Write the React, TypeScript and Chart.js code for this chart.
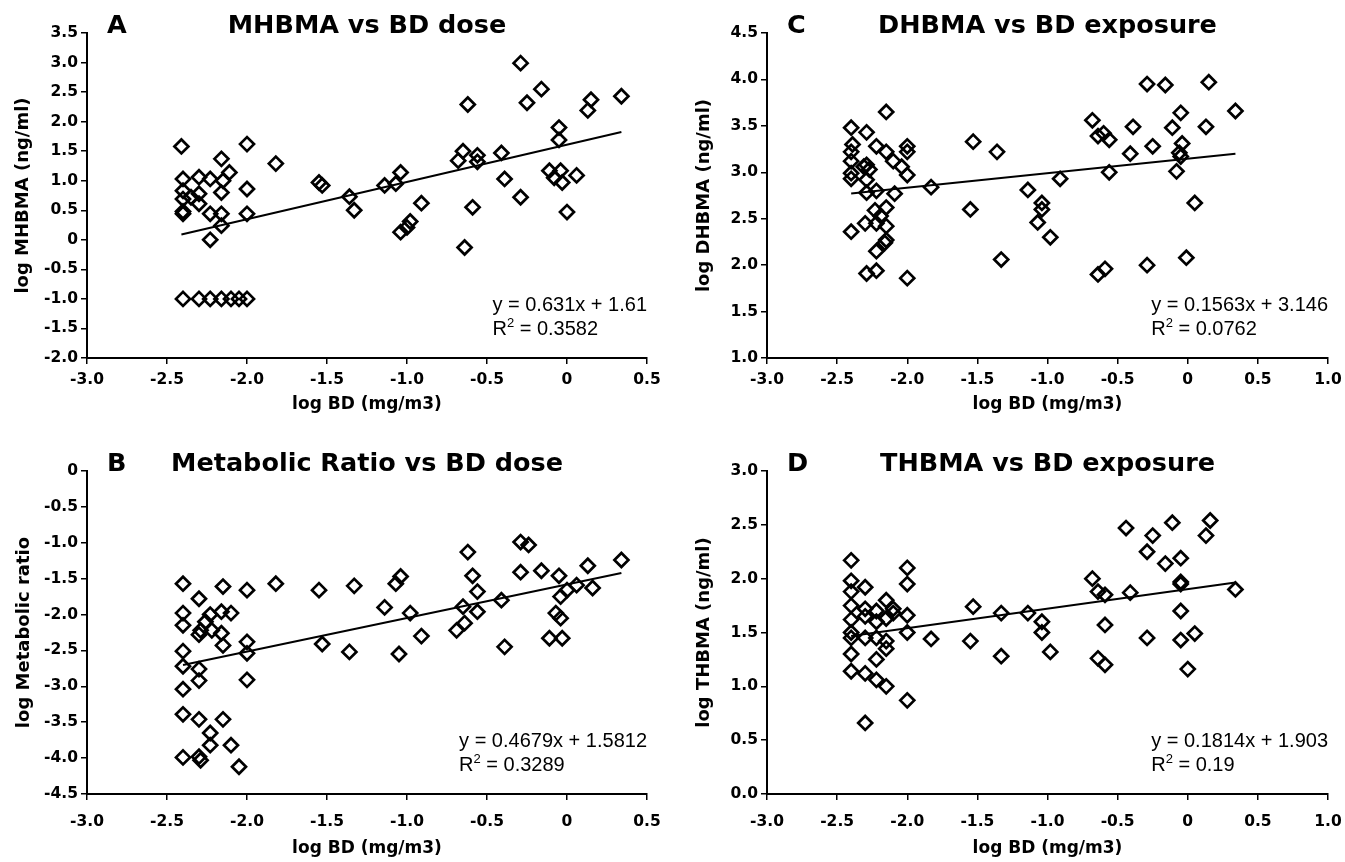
import React, { useEffect, useRef } from "react";
import { Chart, registerables } from "chart.js";

Chart.register(...registerables);

// ---------- Panel A: MHBMA vs BD dose ----------
const mhbmaX = [
  -2.41, -2.0, -2.16, -1.82, -2.4, -2.3, -2.23, -2.15, -2.11, -2.0, -2.4, -2.16, -1.55, -2.3, -2.35,
  -2.4, -2.3, -2.4, -2.4, -2.23, -2.16, -2.0, -2.16, -2.23, -1.53,
  -2.4, -2.3, -2.23, -2.16, -2.1, -2.05, -2.0,
  -0.29, -0.62, -0.16, -0.25, 0.15, 0.13, 0.34, -0.05, -0.05, -0.65, -0.68, -0.56, -0.56, -0.41,
  -1.04, -1.07, -1.14, -0.39, -0.11, -0.04, -0.08, 0.06, -0.03, -1.36, -1.33, -0.91, -0.98, -1.04,
  -1.0, -0.59, -0.64, -0.29, 0.0,
];
const mhbmaY = [
  1.58, 1.62, 1.37, 1.29, 1.03, 1.06, 1.03, 1.0, 1.14, 0.86, 0.83, 0.8, 0.97, 0.78, 0.72,
  0.69, 0.61, 0.48, 0.44, 0.44, 0.44, 0.44, 0.24, 0.0, 0.92,
  -1.0, -1.0, -1.0, -1.0, -1.0, -1.0, -1.0,
  2.99, 2.29, 2.55, 2.32, 2.37, 2.19, 2.43, 1.9, 1.69, 1.5, 1.34, 1.43, 1.32, 1.47,
  1.14, 0.95, 0.92, 1.03, 1.17, 1.17, 1.05, 1.09, 0.97, 0.73, 0.5, 0.62, 0.31, 0.13,
  0.21, 0.55, -0.13, 0.72, 0.47,
];

// ---------- Panel B: Metabolic Ratio vs BD dose ----------
const ratioX = [
  -2.4, -2.3, -2.15, -2.0, -1.82, -1.55, -2.4, -2.23, -2.16, -2.1, -2.4, -2.29, -2.26, -2.22, -2.16,
  -2.0, -2.3, -2.15, -2.0, -2.4, -2.4, -2.3, -2.3, -2.0, -2.4, -2.4, -2.3, -2.15, -2.23, -2.23,
  -2.1, -2.4, -2.3, -2.29, -2.05, -1.53, -1.33, -1.04, -1.07, -1.14, -0.98, -0.62, -0.59, -0.56,
  -0.65, -0.56, -0.64, -0.69, -0.41, -0.29, -0.24, -0.29, -0.16, -0.05, -0.04, 0.0, 0.06, 0.13,
  0.16, 0.34, -0.07, -0.04, -0.11, -0.03, -1.36, -1.05, -0.91, -0.39,
];
const ratioY = [
  -1.57, -1.78, -1.61, -1.66, -1.57, -1.66, -1.98, -2.0, -1.96, -1.98, -2.15, -2.22, -2.1, -2.22, -2.26,
  -2.38, -2.28, -2.43, -2.54, -2.51, -2.72, -2.76, -2.92, -2.91, -3.04, -3.39, -3.46, -3.46, -3.65, -3.82,
  -3.82, -3.99, -3.98, -4.03, -4.12, -2.41, -1.6, -1.47, -1.57, -1.9, -1.98, -1.13, -1.46, -1.68,
  -1.89, -1.96, -2.12, -2.22, -1.8, -0.99, -1.03, -1.41, -1.39, -1.46, -1.75, -1.66, -1.59, -1.32,
  -1.63, -1.24, -1.98, -2.05, -2.33, -2.33, -2.52, -2.55, -2.3, -2.45,
];

// ---------- Panel C: DHBMA vs BD exposure ----------
const dhbmaX = [
  -2.4, -2.29, -2.15, -2.22, -2.39, -2.4, -2.4, -2.15, -2.1, -2.0, -2.0, -2.04, -2.0, -2.4, -2.4,
  -2.31, -2.29, -2.27, -2.29, -1.53, -1.36, -1.83, -2.22, -2.29, -2.09, -2.23, -2.15, -2.19, -2.3,
  -2.22, -2.15, -2.4, -2.15, -2.16, -2.22, -2.29, -2.22, -2.0, -1.55, -1.33, -1.14, -1.04, -1.04,
  -1.07, -0.98, -0.64, -0.59, -0.29, -0.01, 0.05, -0.91, -0.29, -0.16, 0.15, 0.34, -0.68, -0.64,
  -0.6, -0.56, -0.39, -0.05, -0.11, 0.13, -0.04, -0.25, -0.41, -0.06, -0.05, -0.08, -0.56,
];
const dhbmaY = [
  3.48, 3.43, 3.65, 3.28, 3.3, 3.22, 3.12, 3.22, 3.12, 3.28, 3.22, 3.06, 2.97, 2.99, 2.93,
  3.06, 3.08, 3.03, 2.92, 3.33, 3.22, 2.84, 2.8, 2.78, 2.77, 2.59, 2.62, 2.53, 2.45,
  2.45, 2.42, 2.36, 2.27, 2.24, 2.15, 1.91, 1.94, 1.86, 2.6, 2.06, 2.81, 2.67, 2.6,
  2.46, 2.3, 1.9, 1.96, 2.0, 2.08, 2.67, 2.93, 3.95, 3.94, 3.97, 3.66, 3.56, 3.39,
  3.42, 3.35, 3.49, 3.64, 3.48, 3.49, 3.31, 3.28, 3.2, 3.21, 3.17, 3.01, 3.0,
];

// ---------- Panel D: THBMA vs BD exposure ----------
const thbmaX = [
  -2.4, -2.4, -2.4, -2.4, -2.4, -2.4, -2.4, -2.4, -2.4, -2.3, -2.3, -2.3, -2.3, -2.3, -2.3,
  -2.22, -2.22, -2.22, -2.22, -2.22, -2.15, -2.15, -2.15, -2.15, -2.15, -2.1, -2.1, -2.0, -2.0,
  -2.0, -2.0, -2.0, -1.83, -1.55, -1.53, -1.33, -1.33, -1.14, -1.04, -1.04, -0.98, -0.68, -0.64,
  -0.64, -0.59, -0.59, -0.59, -0.44, -0.41, -0.29, -0.29, -0.25, -0.16, -0.11, -0.05, -0.05,
  -0.05, -0.05, -0.05, 0.0, 0.05, 0.13, 0.16, 0.34,
];
const thbmaY = [
  2.17, 1.98, 1.88, 1.75, 1.62, 1.5, 1.45, 1.3, 1.14, 1.92, 1.72, 1.65, 1.45, 1.12, 0.66,
  1.7, 1.6, 1.45, 1.25, 1.06, 1.8, 1.63, 1.42, 1.35, 1.0, 1.72, 1.68, 2.1, 1.95,
  1.66, 1.5, 0.87, 1.44, 1.42, 1.74, 1.68, 1.28, 1.68, 1.6, 1.5, 1.32, 2.0, 1.88,
  1.26, 1.85, 1.2, 1.57, 2.47, 1.87, 2.25, 1.45, 2.4, 2.14, 2.52, 2.19, 1.97,
  1.95, 1.7, 1.43, 1.16, 1.49, 2.4, 2.54, 1.9,
];

// ---------- Axis ticks ----------
const xTicksDose = [-3, -2.5, -2, -1.5, -1, -0.5, 0, 0.5];
const xLabelsDose = ["-3.0", "-2.5", "-2.0", "-1.5", "-1.0", "-0.5", "0", "0.5"];
const xTicksExp = [-3, -2.5, -2, -1.5, -1, -0.5, 0, 0.5, 1];
const xLabelsExp = ["-3.0", "-2.5", "-2.0", "-1.5", "-1.0", "-0.5", "0", "0.5", "1.0"];

const yTicksA = [-2, -1.5, -1, -0.5, 0, 0.5, 1, 1.5, 2, 2.5, 3, 3.5];
const yLabelsA = ["-2.0", "-1.5", "-1.0", "-0.5", "0", "0.5", "1.0", "1.5", "2.0", "2.5", "3.0", "3.5"];
const yTicksB = [-4.5, -4, -3.5, -3, -2.5, -2, -1.5, -1, -0.5, 0];
const yLabelsB = ["-4.5", "-4.0", "-3.5", "-3.0", "-2.5", "-2.0", "-1.5", "-1.0", "-0.5", "0"];
const yTicksC = [1, 1.5, 2, 2.5, 3, 3.5, 4, 4.5];
const yLabelsC = ["1.0", "1.5", "2.0", "2.5", "3.0", "3.5", "4.0", "4.5"];
const yTicksD = [0, 0.5, 1, 1.5, 2, 2.5, 3];
const yLabelsD = ["0.0", "0.5", "1.0", "1.5", "2.0", "2.5", "3.0"];

// ---------- Trend lines (slope, intercept) and labels ----------
const trendSlopes = [0.631, 0.4679, 0.1563, 0.1814];
const trendIntercepts = [1.61, -1.5812, 3.146, 1.903];
const eqLabels = ["y = 0.631x + 1.61", "y = 0.4679x + 1.5812", "y = 0.1563x + 3.146", "y = 0.1814x + 1.903"];
const r2Labels = ["0.3582", "0.3289", "0.0762", "0.19"];
const panelLetters = ["A", "B", "C", "D"];
const panelTitles = ["MHBMA vs BD dose", "Metabolic Ratio vs BD dose", "DHBMA vs BD exposure", "THBMA vs BD exposure"];
const yTitles = ["log MHBMA (ng/ml)", "log Metabolic ratio", "log DHBMA (ng/ml)", "log THBMA (ng/ml)"];
const xTitle = "log BD (mg/m3)";

const BOLD = '"DejaVu Sans", sans-serif';
const REG = '"Liberation Sans", Arial, sans-serif';

type Layout = {
  left: number; top: number; width: number; height: number;
  padTop: number; padRight: number; yWidth: number; xHeight: number;
  yTitlePad: number; xTitlePad: number; xTickPad: number;
};

type PanelProps = {
  idx: number;
  xs: number[]; ys: number[];
  xTicks: number[]; xLabels: string[];
  yTicks: number[]; yLabels: string[];
  layout: Layout;
};

function Panel({ idx, xs, ys, xTicks, xLabels, yTicks, yLabels, layout }: PanelProps) {
  const ref = useRef<HTMLCanvasElement>(null);
  useEffect(() => {
    const canvas = ref.current;
    if (!canvas) return;
    const pts = xs.map((x, i) => ({ x, y: ys[i] }));
    const xmin = Math.min(...xs);
    const xmax = Math.max(...xs);
    const m = trendSlopes[idx];
    const b = trendIntercepts[idx];
    const trend = [
      { x: xmin, y: m * xmin + b },
      { x: xmax, y: m * xmax + b },
    ];
    const annot = {
      id: "annot" + idx,
      afterDraw(chart: any) {
        const { ctx, chartArea } = chart;
        ctx.save();
        ctx.fillStyle = "#000";
        ctx.textBaseline = "alphabetic";
        ctx.font = `bold 25.5px ${BOLD}`;
        ctx.textAlign = "left";
        ctx.fillText(panelLetters[idx], chartArea.left + 20, chartArea.top);
        ctx.textAlign = "center";
        ctx.fillText(panelTitles[idx], (chartArea.left + chartArea.right) / 2, chartArea.top);
        ctx.textAlign = "left";
        ctx.font = `20px ${REG}`;
        const w = ctx.measureText(eqLabels[idx]).width;
        const x0 = chartArea.right - w;
        const y1 = chartArea.bottom - 47;
        const y2 = y1 + 24;
        ctx.fillText(eqLabels[idx], x0, y1);
        ctx.fillText("R", x0, y2);
        const rw = ctx.measureText("R").width;
        ctx.font = `13px ${REG}`;
        ctx.fillText("2", x0 + rw, y2 - 8);
        const tw = ctx.measureText("2").width;
        ctx.font = `20px ${REG}`;
        ctx.fillText(" = " + r2Labels[idx], x0 + rw + tw, y2);
        ctx.restore();
      },
    };
    const chart = new Chart(canvas, {
      type: "scatter",
      data: {
        datasets: [
          {
            data: pts,
            pointStyle: "rectRot",
            pointRadius: 7,
            borderWidth: 2.7,
            borderColor: "#000",
            backgroundColor: "rgba(0,0,0,0)",
          } as any,
          {
            data: trend,
            showLine: true,
            pointRadius: 0,
            borderColor: "#000",
            borderWidth: 2,
            fill: false,
          } as any,
        ],
      },
      options: {
        responsive: false,
        animation: false,
        devicePixelRatio: 1,
        events: [],
        layout: { padding: { left: 0, top: layout.padTop, right: layout.padRight, bottom: 0 } },
        plugins: {
          legend: { display: false },
          tooltip: { enabled: false },
          title: { display: false },
        },
        scales: {
          x: {
            type: "linear",
            position: "bottom",
            min: xTicks[0],
            max: xTicks[xTicks.length - 1],
            afterBuildTicks: (s: any) => {
              s.ticks = xTicks.map((v) => ({ value: v }));
            },
            afterFit: (s: any) => {
              s.height = layout.xHeight;
              s.paddingLeft = 0;
              s.paddingRight = 0;
            },
            ticks: {
              autoSkip: false,
              maxRotation: 0,
              minRotation: 0,
              padding: layout.xTickPad,
              color: "#000",
              font: { family: BOLD, weight: "bold", size: 15.5 },
              callback: (_v: any, i: number) => xLabels[i],
            },
            grid: { drawOnChartArea: false, drawTicks: true, tickLength: 6, color: "#000", lineWidth: 1.5 },
            border: { display: true, color: "#000", width: 2 },
            title: {
              display: true,
              text: xTitle,
              color: "#000",
              font: { family: BOLD, weight: "bold", size: 17 },
              padding: { top: 0, bottom: layout.xTitlePad },
            },
          } as any,
          y: {
            type: "linear",
            position: "left",
            min: yTicks[0],
            max: yTicks[yTicks.length - 1],
            afterBuildTicks: (s: any) => {
              s.ticks = yTicks.map((v) => ({ value: v }));
            },
            afterFit: (s: any) => {
              s.width = layout.yWidth;
              s.paddingTop = 0;
              s.paddingBottom = 0;
            },
            ticks: {
              autoSkip: false,
              padding: 3,
              color: "#000",
              font: { family: BOLD, weight: "bold", size: 15.5 },
              callback: (_v: any, i: number) => yLabels[i],
            },
            grid: { drawOnChartArea: false, drawTicks: true, tickLength: 6, color: "#000", lineWidth: 1.5 },
            border: { display: true, color: "#000", width: 2 },
            title: {
              display: true,
              text: yTitles[idx],
              color: "#000",
              font: { family: BOLD, weight: "bold", size: 18 },
              padding: { top: layout.yTitlePad, bottom: 0 },
            },
          } as any,
        },
      },
      plugins: [annot],
    });
    return () => chart.destroy();
  }, []);
  return (
    <canvas
      ref={ref}
      width={layout.width}
      height={layout.height}
      style={{ position: "absolute", left: layout.left, top: layout.top, width: layout.width, height: layout.height }}
    />
  );
}

const layoutA: Layout = { left: 0, top: 0, width: 672, height: 431, padTop: 33, padRight: 25, yWidth: 87, xHeight: 73, yTitlePad: 12.5, xTitlePad: 16, xTickPad: 7 };
const layoutB: Layout = { left: 0, top: 431, width: 672, height: 431, padTop: 40, padRight: 25, yWidth: 87, xHeight: 68, yTitlePad: 13.5, xTitlePad: 3, xTickPad: 13 };
const layoutC: Layout = { left: 672, top: 0, width: 673, height: 431, padTop: 33, padRight: 17, yWidth: 95, xHeight: 73, yTitlePad: 22, xTitlePad: 16, xTickPad: 7 };
const layoutD: Layout = { left: 672, top: 431, width: 673, height: 431, padTop: 40, padRight: 17, yWidth: 95, xHeight: 68, yTitlePad: 22, xTitlePad: 3, xTickPad: 13 };

export default function App() {
  return (
    <div style={{ position: "absolute", left: 0, top: 0, width: 1345, height: 862, background: "#fff", overflow: "hidden" }}>
      <Panel idx={0} xs={mhbmaX} ys={mhbmaY} xTicks={xTicksDose} xLabels={xLabelsDose} yTicks={yTicksA} yLabels={yLabelsA} layout={layoutA} />
      <Panel idx={1} xs={ratioX} ys={ratioY} xTicks={xTicksDose} xLabels={xLabelsDose} yTicks={yTicksB} yLabels={yLabelsB} layout={layoutB} />
      <Panel idx={2} xs={dhbmaX} ys={dhbmaY} xTicks={xTicksExp} xLabels={xLabelsExp} yTicks={yTicksC} yLabels={yLabelsC} layout={layoutC} />
      <Panel idx={3} xs={thbmaX} ys={thbmaY} xTicks={xTicksExp} xLabels={xLabelsExp} yTicks={yTicksD} yLabels={yLabelsD} layout={layoutD} />
    </div>
  );
}
